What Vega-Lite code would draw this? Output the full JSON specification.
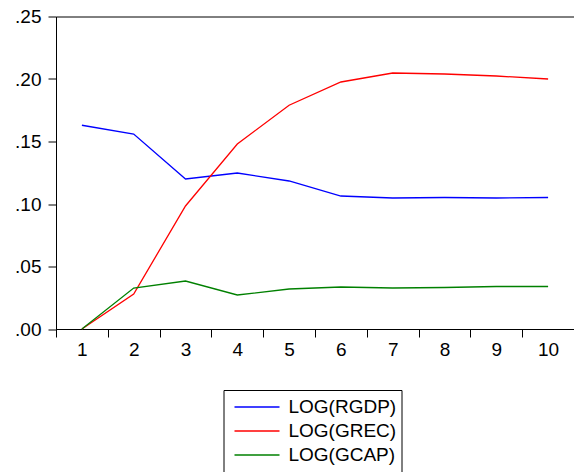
{
  "$schema": "https://vega.github.io/schema/vega-lite/v6.json",
  "width": 518,
  "height": 312.5,
  "autosize": {"type": "none"},
  "padding": {"left": 56, "top": 16.5, "right": 0, "bottom": 143},
  "background": "white",
  "config": {
    "view": {"stroke": "black", "strokeWidth": 1},
    "font": "Liberation Sans"
  },
  "data": {
    "values": [
      {"period": 1, "series": "LOG(RGDP)", "value": 0.163},
      {"period": 2, "series": "LOG(RGDP)", "value": 0.156},
      {"period": 3, "series": "LOG(RGDP)", "value": 0.120},
      {"period": 4, "series": "LOG(RGDP)", "value": 0.1248},
      {"period": 5, "series": "LOG(RGDP)", "value": 0.1184},
      {"period": 6, "series": "LOG(RGDP)", "value": 0.1064},
      {"period": 7, "series": "LOG(RGDP)", "value": 0.1048},
      {"period": 8, "series": "LOG(RGDP)", "value": 0.1052},
      {"period": 9, "series": "LOG(RGDP)", "value": 0.1048},
      {"period": 10, "series": "LOG(RGDP)", "value": 0.1052},
      {"period": 1, "series": "LOG(GREC)", "value": 0.0},
      {"period": 2, "series": "LOG(GREC)", "value": 0.028},
      {"period": 3, "series": "LOG(GREC)", "value": 0.0984},
      {"period": 4, "series": "LOG(GREC)", "value": 0.148},
      {"period": 5, "series": "LOG(GREC)", "value": 0.179},
      {"period": 6, "series": "LOG(GREC)", "value": 0.1976},
      {"period": 7, "series": "LOG(GREC)", "value": 0.2048},
      {"period": 8, "series": "LOG(GREC)", "value": 0.204},
      {"period": 9, "series": "LOG(GREC)", "value": 0.2024},
      {"period": 10, "series": "LOG(GREC)", "value": 0.200},
      {"period": 1, "series": "LOG(GCAP)", "value": 0.0},
      {"period": 2, "series": "LOG(GCAP)", "value": 0.0328},
      {"period": 3, "series": "LOG(GCAP)", "value": 0.0384},
      {"period": 4, "series": "LOG(GCAP)", "value": 0.0272},
      {"period": 5, "series": "LOG(GCAP)", "value": 0.032},
      {"period": 6, "series": "LOG(GCAP)", "value": 0.0336},
      {"period": 7, "series": "LOG(GCAP)", "value": 0.0328},
      {"period": 8, "series": "LOG(GCAP)", "value": 0.0332},
      {"period": 9, "series": "LOG(GCAP)", "value": 0.034},
      {"period": 10, "series": "LOG(GCAP)", "value": 0.034}
    ]
  },
  "mark": {"type": "line", "strokeWidth": 1.3},
  "encoding": {
    "x": {
      "field": "period",
      "type": "ordinal",
      "scale": {"type": "band", "paddingInner": 0, "paddingOuter": 0},
      "axis": {
        "title": null,
        "labelAngle": 0,
        "labelFontSize": 19,
        "labelColor": "black",
        "labelPadding": 3,
        "tickBand": "extent",
        "tickSize": 8,
        "tickColor": "black",
        "domainColor": "black",
        "grid": false
      }
    },
    "y": {
      "field": "value",
      "type": "quantitative",
      "scale": {"domain": [0, 0.25], "nice": false},
      "axis": {
        "title": null,
        "values": [0, 0.05, 0.1, 0.15, 0.2, 0.25],
        "labelExpr": "replace(format(datum.value, '.2f'), '0.', '.')",
        "labelFontSize": 19,
        "labelColor": "black",
        "labelPadding": 7,
        "tickSize": 8,
        "tickColor": "black",
        "domainColor": "black",
        "grid": false
      }
    },
    "color": {
      "field": "series",
      "type": "nominal",
      "scale": {
        "domain": ["LOG(RGDP)", "LOG(GREC)", "LOG(GCAP)"],
        "range": ["#0000FF", "#FF0000", "#008000"]
      },
      "legend": {
        "title": null,
        "orient": "none",
        "legendX": 167.5,
        "legendY": 373.5,
        "direction": "vertical",
        "strokeColor": "black",
        "fillColor": "white",
        "padding": 5,
        "symbolType": "stroke",
        "symbolSize": 2025,
        "symbolStrokeWidth": 1.5,
        "symbolOffset": 5,
        "clipHeight": 24,
        "labelFontSize": 19,
        "labelColor": "black",
        "labelOffset": 8,
        "rowPadding": 0
      }
    }
  }
}
